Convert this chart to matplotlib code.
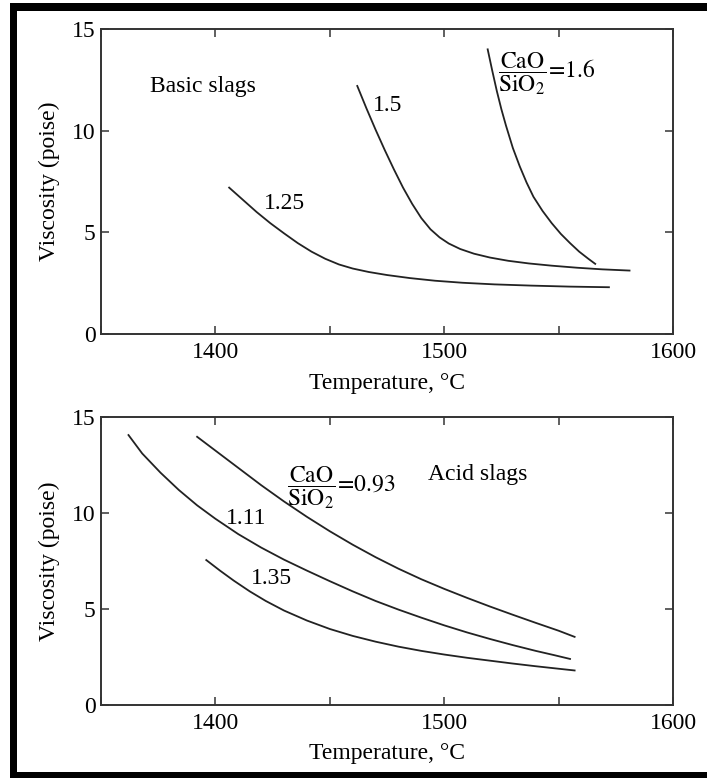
import matplotlib
matplotlib.use("Agg")
import matplotlib.pyplot as plt
from matplotlib.patches import Rectangle
from matplotlib.ticker import MultipleLocator

# --- basic slags (CaO/SiO2 ratio -> viscosity vs temperature) ---
basic_125_T = [1406, 1412, 1418, 1424, 1430, 1436, 1442, 1448, 1454, 1460, 1467, 1475,
               1485, 1496, 1508, 1522, 1538, 1555, 1572]
basic_125_v = [7.2, 6.6, 6.0, 5.45, 4.95, 4.47, 4.05, 3.7, 3.42, 3.22, 3.05, 2.9,
               2.75, 2.62, 2.52, 2.44, 2.38, 2.33, 2.3]
basic_15_T = [1462, 1466, 1470, 1474, 1478, 1482, 1486, 1490, 1494, 1498, 1502, 1507,
              1513, 1520, 1528, 1537, 1547, 1558, 1569, 1581]
basic_15_v = [12.2, 11.1, 10.05, 9.05, 8.1, 7.2, 6.4, 5.7, 5.15, 4.75, 4.45, 4.18,
              3.95, 3.76, 3.6, 3.47, 3.36, 3.26, 3.18, 3.12]
basic_16_T = [1519, 1521, 1523, 1525, 1527, 1530, 1533, 1536, 1539, 1543, 1547, 1551,
              1555, 1559, 1563, 1566]
basic_16_v = [14.0, 12.95, 11.95, 11.05, 10.25, 9.15, 8.25, 7.45, 6.75, 6.05, 5.45, 4.92,
              4.47, 4.05, 3.7, 3.45]

# --- acid slags ---
acid_093_T = [1392, 1400, 1410, 1420, 1430, 1440, 1450, 1460, 1470, 1480, 1490, 1500,
              1510, 1520, 1530, 1540, 1550, 1557]
acid_093_v = [13.97, 13.25, 12.35, 11.45, 10.6, 9.8, 9.05, 8.35, 7.7, 7.1, 6.55, 6.05,
              5.58, 5.13, 4.7, 4.28, 3.87, 3.55]
acid_111_T = [1362, 1368, 1376, 1384, 1392, 1400, 1410, 1420, 1430, 1440, 1450, 1460,
              1470, 1480, 1490, 1500, 1510, 1520, 1530, 1540, 1548, 1555]
acid_111_v = [14.06, 13.1, 12.1, 11.2, 10.4, 9.7, 8.9, 8.2, 7.57, 7.0, 6.45, 5.92,
              5.42, 4.97, 4.55, 4.15, 3.78, 3.44, 3.12, 2.82, 2.6, 2.4]
acid_135_T = [1396, 1402, 1408, 1415, 1422, 1430, 1440, 1450, 1460, 1470, 1480, 1490,
              1500, 1510, 1520, 1530, 1540, 1550, 1557]
acid_135_v = [7.55, 7.0, 6.48, 5.92, 5.42, 4.92, 4.4, 3.96, 3.6, 3.3, 3.04, 2.82,
              2.63, 2.46, 2.31, 2.16, 2.02, 1.89, 1.8]

xticks = [1400, 1500, 1600]
yticks = [0, 5, 10, 15]

plt.rcParams["font.family"] = ["Liberation Serif", "DejaVu Serif"]
plt.rcParams["mathtext.fontset"] = "stix"
plt.rcParams["font.size"] = 17

fig = plt.figure(figsize=(7.07, 7.78), dpi=100)
ax1 = fig.add_axes([0.1429, 0.5707, 0.809, 0.392])
ax2 = fig.add_axes([0.1429, 0.0938, 0.809, 0.3702])

lc = "#222222"
for ax in (ax1, ax2):
    ax.set_xlim(1350, 1600)
    ax.set_ylim(0, 15)
    ax.set_xticks(xticks)
    ax.set_yticks(yticks)
    ax.xaxis.set_minor_locator(MultipleLocator(50))
    ax.tick_params(which="both", direction="in", top=True, right=True,
                   length=6, width=1.2, color="#444444", labelsize=17)
    ax.tick_params(axis="x", pad=6)
    ax.tick_params(axis="y", pad=4)
    for s in ax.spines.values():
        s.set_linewidth(1.4)
        s.set_color("#333333")
    ax.set_xlabel("Temperature, °C", fontsize=17)
    ax.set_ylabel("Viscosity (poise)", fontsize=17)
    ax.yaxis.set_label_coords(-0.072, 0.5)

ax1.xaxis.set_label_coords(0.5, -0.128)
ax2.xaxis.set_label_coords(0.5, -0.131)

for T, v in [(basic_125_T, basic_125_v), (basic_15_T, basic_15_v), (basic_16_T, basic_16_v)]:
    ax1.plot(T, v, color=lc, lw=1.3)
for T, v in [(acid_093_T, acid_093_v), (acid_111_T, acid_111_v), (acid_135_T, acid_135_v)]:
    ax2.plot(T, v, color=lc, lw=1.3)

ax1.text(1371.5, 12.15, "Basic slags", va="center", ha="left")
ax1.text(1421, 6.4, "1.25", va="center", ha="left")
ax1.text(1469, 11.26, "1.5", va="center", ha="left")
ax1.text(1523.7, 12.8, r"$\dfrac{\mathrm{CaO}}{\mathrm{SiO_2}}\!=\!1.6$", va="center", ha="left")

ax2.text(1492.8, 11.98, "Acid slags", va="center", ha="left")
ax2.text(1404.4, 9.74, "1.11", va="center", ha="left")
ax2.text(1415.4, 6.6, "1.35", va="center", ha="left")
ax2.text(1431.4, 11.3, r"$\dfrac{\mathrm{CaO}}{\mathrm{SiO_2}}\!=\!0.93$", va="center", ha="left")

# black frame around the figure (left, top, bottom)
fig.add_artist(Rectangle((0.01414, 0.0), 0.0103, 0.9958, transform=fig.transFigure,
                         color="black", lw=0))
fig.add_artist(Rectangle((0.01414, 0.9859), 0.99, 0.0099, transform=fig.transFigure,
                         color="black", lw=0))
fig.add_artist(Rectangle((0.01414, 0.0), 0.99, 0.0081, transform=fig.transFigure,
                         color="black", lw=0))

fig.savefig("out.png", dpi=100)
